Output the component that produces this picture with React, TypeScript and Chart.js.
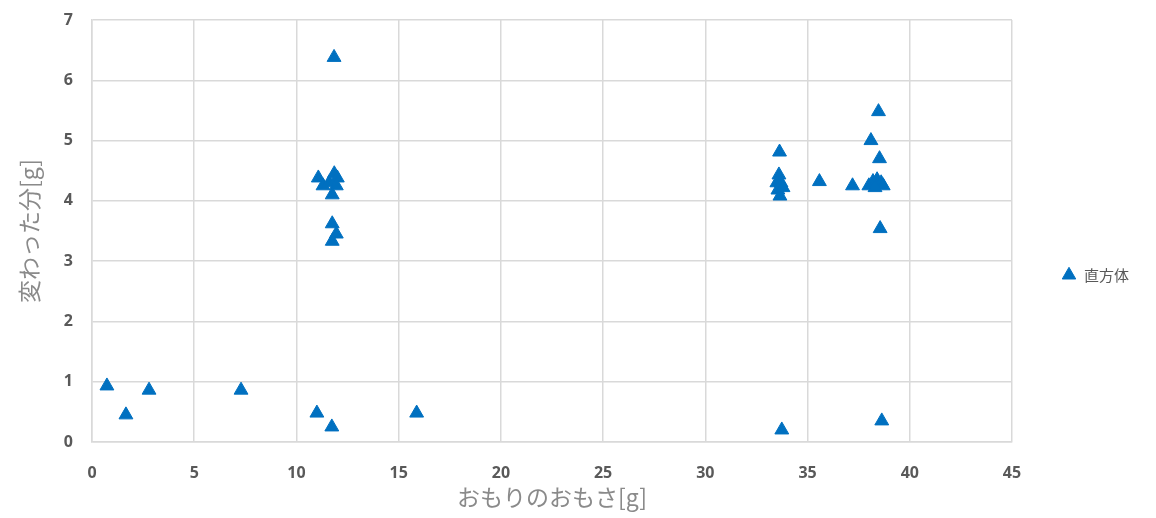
import React, { useEffect, useRef } from "react";
import { Chart, registerables } from "chart.js";

Chart.register(...registerables);

const seriesName = "直方体";
const xTitle = "おもりのおもさ[g]";
const yTitle = "変わった分[g]";

const xValues = [
  0.73, 1.66, 2.79, 7.29, 11.0, 11.73, 15.88, 33.74, 38.63,
  11.84, 11.07, 11.3, 11.6, 11.85, 12.0, 11.95, 11.75, 11.75, 11.95, 11.75,
  33.63, 33.6, 33.5, 33.7, 33.55, 33.65, 33.8, 35.58, 37.2,
  38.47, 38.1, 38.52, 38.0, 38.2, 38.4, 38.6, 38.7, 38.3, 38.55,
];
const yValues = [
  0.93, 0.45, 0.86, 0.86, 0.48, 0.25, 0.48, 0.2, 0.35,
  6.38, 4.38, 4.25, 4.3, 4.45, 4.38, 4.25, 4.1, 3.62, 3.45, 3.33,
  4.81, 4.43, 4.3, 4.3, 4.18, 4.08, 4.22, 4.32, 4.25,
  5.48, 5.0, 4.7, 4.25, 4.32, 4.35, 4.3, 4.25, 4.22, 3.54,
];

const xMin = 0, xMax = 45, xStep = 5;
const yMin = 0, yMax = 7, yStep = 1;

export default function App() {
  const ref = useRef<HTMLCanvasElement>(null);
  useEffect(() => {
    document.body.style.margin = "0";
    const canvas = ref.current!;
    const points = xValues.map((x, i) => ({ x, y: yValues[i] }));
    const gridColor = "#d9d9d9";
    const tickFont = { family: "'Noto Sans', sans-serif", size: 16, weight: "bold" as const };
    const jpFont = "'Noto Sans CJK JP', sans-serif";
    const chart = new Chart(canvas, {
      type: "scatter",
      data: {
        datasets: [
          {
            label: seriesName,
            data: points,
            pointStyle: "triangle",
            pointRadius: 8,
            pointHoverRadius: 8,
            backgroundColor: "#0070C0",
            borderColor: "#0070C0",
            borderWidth: 1,
          },
        ],
      },
      options: {
        animation: false,
        responsive: false,
        layout: { padding: { top: 20, right: 17, left: 0, bottom: 0 } },
        plugins: {
          tooltip: { enabled: false },
          legend: {
            position: "right",
            align: "center",
            title: { display: true, text: "", font: { size: 1 }, padding: { top: 0, bottom: 11 } },
            labels: {
              usePointStyle: true,
              boxHeight: 11,
              padding: 49.5,
              color: "#595959",
              font: { family: jpFont, size: 15 },
            },
          },
        },
        scales: {
          x: {
            type: "linear",
            min: xMin,
            max: xMax,
            afterFit: (s: any) => { s.height = 76; s.paddingLeft = 0; s.paddingRight = 0; },
            ticks: { stepSize: xStep, color: "#595959", font: tickFont, padding: 22 },
            grid: { color: gridColor, lineWidth: 1.5, drawTicks: false },
            border: { display: true, color: gridColor, width: 1.5 },
            title: {
              display: true,
              text: xTitle,
              color: "#8a8a8a",
              font: { family: jpFont, size: 23 },
              padding: { top: 0, bottom: 7 },
            },
          },
          y: {
            type: "linear",
            min: yMin,
            max: yMax,
            afterFit: (s: any) => { s.width = 92; s.paddingTop = 0; s.paddingBottom = 0; },
            ticks: { stepSize: yStep, color: "#595959", font: tickFont, padding: 19 },
            grid: { color: gridColor, lineWidth: 1.5, drawTicks: false },
            border: { display: true, color: gridColor, width: 1.5 },
            title: {
              display: true,
              text: yTitle,
              color: "#8a8a8a",
              font: { family: jpFont, size: 23 },
              padding: { top: 15, bottom: 0 },
            },
          },
        },
      },
    });
    return () => chart.destroy();
  }, []);
  return (
    <div style={{ width: 1156, height: 518 }}>
      <canvas ref={ref} width={1156} height={518} style={{ display: "block" }} />
    </div>
  );
}
